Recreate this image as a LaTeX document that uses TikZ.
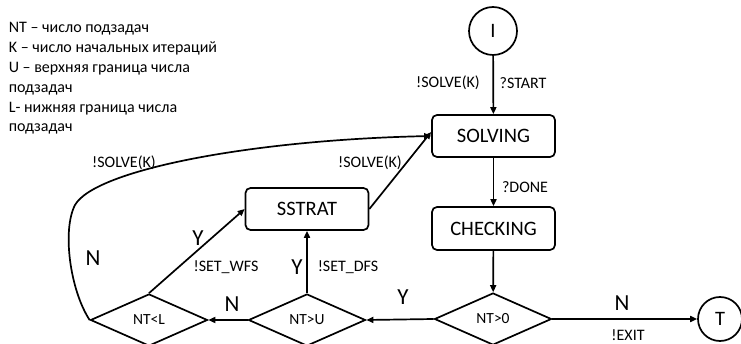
\documentclass[tikz,border=0pt]{standalone}
\usepackage{fontspec}
\setmainfont{Carlito}
\usetikzlibrary{shapes.geometric,arrows.meta}
\begin{document}
\begin{tikzpicture}[x=1pt,y=-1pt,
  line width=1.7pt,
  arr/.style={-{Triangle[length=7pt,width=6pt]}},
  statebox/.style={draw,rounded corners=5pt,minimum width=123pt,minimum height=42pt,inner sep=0pt,font=\fontsize{20.5}{24}\selectfont},
  term/.style={draw,circle,inner sep=0pt,font=\fontsize{20.5}{24}\selectfont},
  cond/.style={draw,diamond,aspect=2.25,minimum width=117pt,minimum height=52pt,inner sep=0pt,font=\fontsize{15.5}{18}\selectfont},
  lbl/.style={font=\fontsize{16}{19}\selectfont,inner sep=0pt},
  big/.style={font=\fontsize{23}{27}\selectfont,inner sep=0pt},
  leg/.style={font=\fontsize{16}{19}\selectfont,inner sep=0pt,anchor=base west}
]
\useasboundingbox (0,0) rectangle (741,344);
% legend
\node[leg] (l1) at (8,33) {NT – число подзадач};
\node[leg] (l2) at (8,53) {K – число начальных итераций};
\node[leg] (l3) at (8,73) {U – верхняя граница числа};
\node[leg] (l4) at (8,93) {подзадач};
\node[leg] (l5) at (8,113) {L- нижняя граница числа};
\node[leg] (l6) at (8,132) {подзадач};
% nodes
\node[term,minimum size=48pt] (I) at (493,31) {I};
\node[statebox] (solving) at (493.5,136) {SOLVING};
\node[statebox,minimum height=43pt] (checking) at (493.5,228.5) {CHECKING};
\node[statebox] (sstrat) at (307,209) {SSTRAT};
\node[cond] (nt0) at (493,319) {NT>0};
\node[cond] (ntu) at (307,320) {NT>U};
\node[cond] (ntl) at (149,320) {NT<L};
\node[term,minimum size=44pt] (T) at (720,319) {T};
% connectors
\draw[arr] (I) -- (solving);
\draw[arr] (solving) -- (checking);
\draw[arr] (checking) -- (nt0);
\draw[arr] (nt0.west) -- (ntu.east);
\draw[arr] (ntu.west) -- (ntl.east);
\draw[arr] (ntu.north) -- (sstrat.south);
\draw[arr] (ntl.north) -- (sstrat.west);
\draw[arr] (sstrat.east) -- ([yshift=4pt]solving.west);
\draw[arr] (nt0.east) -- (T.west);
\draw[arr] (ntl.west) .. controls (70,290) and (62,230) .. (75,205)
  .. controls (95,170) and (250,140) .. (solving.west);
% labels
\node[lbl] (a1) at (448,83) {!SOLVE(K)};
\node[lbl] (a2) at (523,83) {?START};
\node[lbl] (a3) at (525,187) {?DONE};
\node[lbl] (a4) at (124,163) {!SOLVE(K)};
\node[lbl] (a5) at (370,163) {!SOLVE(K)};
\node[big] (n1) at (93,258) {N};
\node[big] (y1) at (198,238) {Y};
\node[lbl] (a6) at (226,267) {!SET\_WFS};
\node[big] (y2) at (297,267) {Y};
\node[lbl] (a7) at (348,267) {!SET\_DFS};
\node[big] (n2) at (232,304) {N};
\node[big] (y3) at (403,297) {Y};
\node[big] (n3) at (622,303) {N};
\node[lbl] (a8) at (628,335) {!EXIT};
\end{tikzpicture}
\end{document}
